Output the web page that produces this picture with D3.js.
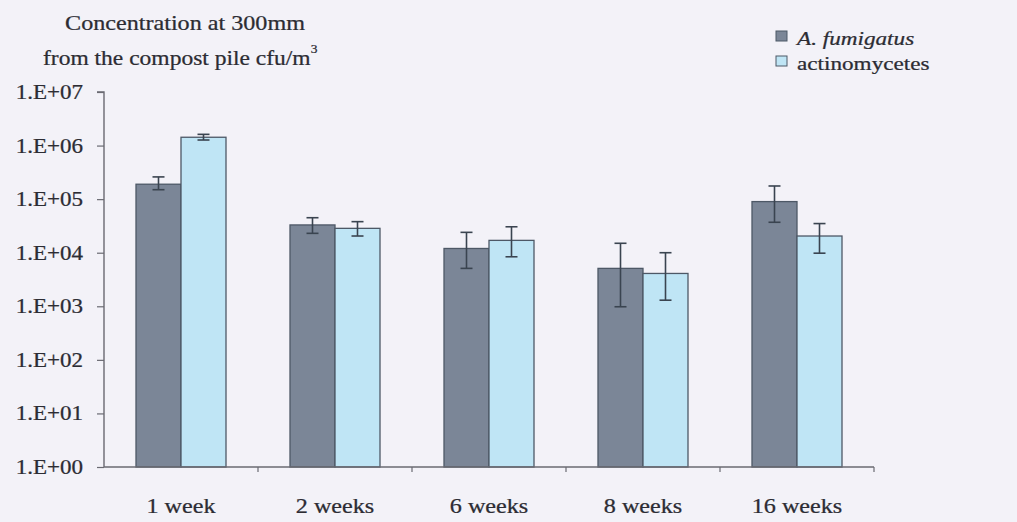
<!DOCTYPE html>
<html>
<head>
<meta charset="utf-8">
<script src="https://cdn.jsdelivr.net/npm/d3@7"></script>
<style>
  html, body { margin: 0; padding: 0; background: #f3f2f8; }
  svg { display: block; }
  text { font-family: "Liberation Serif", "Times New Roman", serif; fill: #2c2c33; stroke: #2c2c33; stroke-width: 0.25px; }
</style>
</head>
<body>
<svg id="chart" width="1017" height="522"></svg>
<script>
// Sampling times
const categories = ["1 week", "2 weeks", "6 weeks", "8 weeks", "16 weeks"];
const seriesNames = ["A. fumigatus", "actinomycetes"];

// Mean concentrations (cfu/m3)
const fumigatus = [1.9e5, 3.3e4, 1.2e4, 5.1e3, 9.0e4];
const actinomycetes = [1.43e6, 2.85e4, 1.7e4, 4.1e3, 2.05e4];

// Error bar extents (lower, upper)
const fumigatusLow = [1.5e5, 2.3e4, 5.1e3, 9.8e2, 3.7e4];
const fumigatusHigh = [2.6e5, 4.5e4, 2.4e4, 1.5e4, 1.76e5];
const actinoLow = [1.27e6, 2.05e4, 8.4e3, 1.3e3, 9.8e3];
const actinoHigh = [1.62e6, 3.8e4, 3.05e4, 1.0e4, 3.5e4];

const yTicks = [1, 10, 100, 1e3, 1e4, 1e5, 1e6, 1e7];
const yTickLabels = ["1.E+00", "1.E+01", "1.E+02", "1.E+03", "1.E+04", "1.E+05", "1.E+06", "1.E+07"];

const colors = ["#7b8697", "#bfe5f5"];

const svg = d3.select("#chart");
const plotLeft = 104, plotRight = 874, plotTop = 92, plotBottom = 467;

const x = d3.scaleBand().domain(categories).range([plotLeft, plotRight]).paddingInner(0).paddingOuter(0);
const y = d3.scaleLog().domain([1, 1e7]).range([plotBottom, plotTop]);
const barW = 45;

const rows = categories.map((c, i) => ({
  cat: c,
  vals: [
    { v: fumigatus[i], lo: fumigatusLow[i], hi: fumigatusHigh[i], s: 0 },
    { v: actinomycetes[i], lo: actinoLow[i], hi: actinoHigh[i], s: 1 }
  ]
}));

// The printed serif face is wider than Liberation Serif, so text is widened horizontally
function wideText(sel, px, py, anchor, stretch) {
  return sel.attr("transform", `translate(${px},${py}) scale(${stretch},1)`)
            .attr("text-anchor", anchor);
}

// Bars
const g = svg.append("g");
rows.forEach(r => {
  const cx = x(r.cat) + x.bandwidth() / 2;
  r.vals.forEach(d => {
    const bx = cx - barW + d.s * barW;
    g.append("rect")
      .attr("x", bx).attr("y", y(d.v))
      .attr("width", barW).attr("height", y(1) - y(d.v))
      .attr("fill", colors[d.s])
      .attr("stroke", "#4d5866").attr("stroke-width", 1.3);
  });
});

// Error bars
rows.forEach(r => {
  const cx = x(r.cat) + x.bandwidth() / 2;
  r.vals.forEach(d => {
    const ex = cx - barW / 2 + d.s * barW;
    const eg = g.append("g").attr("stroke", "#3a4450").attr("stroke-width", 1.6);
    eg.append("line").attr("x1", ex).attr("x2", ex).attr("y1", y(d.lo)).attr("y2", y(d.hi));
    eg.append("line").attr("x1", ex - 6).attr("x2", ex + 6).attr("y1", y(d.hi)).attr("y2", y(d.hi));
    eg.append("line").attr("x1", ex - 6).attr("x2", ex + 6).attr("y1", y(d.lo)).attr("y2", y(d.lo));
  });
});

// Y axis
const yAxis = d3.axisLeft(y).tickValues(yTicks).tickSize(7).tickFormat(() => "");
const ya = svg.append("g").attr("transform", `translate(${plotLeft},0)`).call(yAxis);
ya.select(".domain").attr("stroke", "#6a6a72").attr("stroke-width", 1.4).attr("d", `M-7,${plotTop}H0V${plotBottom}`);
ya.selectAll(".tick line").attr("stroke", "#6a6a72").attr("stroke-width", 1.2);
yTicks.forEach((t, i) => {
  wideText(svg.append("text").text(yTickLabels[i]).attr("font-size", 20).attr("dy", "0.35em"), 83, y(t), "end", 1.15);
});

// X axis
const xa = svg.append("g").attr("transform", `translate(0,${plotBottom})`);
xa.append("line").attr("x1", plotLeft).attr("x2", plotRight).attr("y1", 0).attr("y2", 0)
  .attr("stroke", "#6a6a72").attr("stroke-width", 1.4);
categories.forEach(c => {
  const bx = x(c) + x.bandwidth();
  xa.append("line").attr("x1", bx).attr("x2", bx).attr("y1", 0).attr("y2", 5)
    .attr("stroke", "#6a6a72").attr("stroke-width", 1.2);
  wideText(xa.append("text").text(c).attr("font-size", 21), x(c) + x.bandwidth() / 2, 46, "middle", 1.15);
});

// Axis title
wideText(svg.append("text").text("Concentration at 300mm").attr("font-size", 21), 185, 30, "middle", 1.15);
const t2 = wideText(svg.append("text").attr("font-size", 21), 43, 65, "start", 1.12);
t2.append("tspan").text("from the compost pile cfu/m");
t2.append("tspan").text("3").attr("font-size", 12).attr("dy", -12);

// Legend
const legend = svg.append("g");
seriesNames.forEach((n, i) => {
  const ly = 31 + i * 25;
  legend.append("rect").attr("x", 776).attr("y", ly).attr("width", 11).attr("height", 10)
    .attr("fill", colors[i]).attr("stroke", "#4d5866").attr("stroke-width", 1);
  const lt = wideText(legend.append("text").text(n).attr("font-size", 19), 797, ly + 14, "start", 1.22);
  if (i === 0) lt.attr("font-style", "italic");
});
</script>
</body>
</html>
